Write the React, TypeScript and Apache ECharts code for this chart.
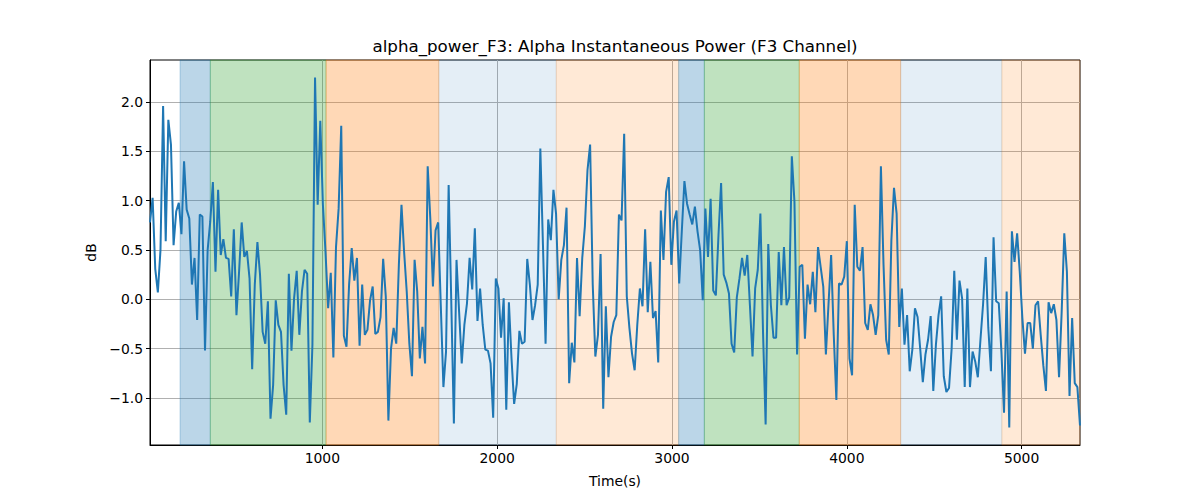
import React, { useEffect, useRef } from "react";
import * as echarts from "echarts";

const T0 = 14;
const T_END = 5334;

const alphaPower: number[] = [
  0.78, 1.03, 0.31, 0.07, 0.5, 1.96, 0.59, 1.82, 1.57, 0.55, 0.89, 0.98, 0.66, 1.4, 0.91, 0.82, 0.15, 0.42, -0.21, 0.86,
  0.84, -0.52, 0.5, 0.79, 1.19, 0.28, 1.11, 0.45, 0.61, 0.42, 0.41, 0.03, 0.71, -0.16, 0.28, 0.78, 0.43, 0.49, 0.21, -0.71,
  0.15, 0.58, 0.25, -0.33, -0.45, -0.02, -1.21, -0.87, -0.01, -0.26, -0.33, -0.87,
  -1.17, 0.26, -0.52, 0.01, 0.29, -0.36, 0.08, 0.3, 0.26, -1.25, -0.46, 2.25, 0.96, 1.81, 0.96, 0.48, -0.09, 0.27, -0.59,
  0.53, 0.92, 1.76, -0.37, -0.48, 0.15, 0.52, 0.19, 0.42, -0.47, 0.15, -0.36, -0.31, -0.01, 0.13, -0.35, -0.33, -0.18,
  0.41, 0.03, -1.23, -0.5, -0.29, -0.45, 0.35, 0.96, 0.48, 0.08, -0.45, -0.78, 0.4,
  0.08, -0.6, -0.28, -0.65, 1.35, 0.82, 0.13, 0.7, 0.78, -0.06, -0.89, -0.53, 1.16, -0.02, -1.26, 0.4, -0.13, -0.65, -0.26,
  -0.04, 0.42, 0.1, 0.72, -0.22, 0.11, -0.26, -0.51, -0.52, -0.65, -1.2, 0.21, 0.11, -0.39, 0.01, -1.12, -0.03, -0.6, -1.06,
  -0.86, -0.32, -0.45, -0.43, 0.41, 0.15, -0.21, -0.06, 0.15, 1.53, 0.55, -0.45, 0.81,
  0.6, 1.11, 0.87, 0.0, 0.4, 0.55, 0.93, -0.85, -0.44, -0.64, 0.42, -0.17, 0.42, 0.74, 1.31, 1.57, 0.15, -0.58, -0.36, 0.46,
  -1.11, -0.07, -0.79, -0.38, -0.23, -0.16, 0.86, 0.8, 1.68, 0.03, -0.29, -0.55, -0.72, -0.26, 0.11, -0.07, 0.71, -0.13,
  0.38, -0.19, -0.12, -0.64, 0.9, 0.4, 1.09, 1.24, 0.35, 0.79, 0.9, 0.16,
  0.69, 1.2, 0.97, 0.86, 0.76, 0.94, 0.69, 0.5, -0.01, 0.92, 0.43, 1.02, 0.09, 0.04, 0.65, 1.18, 0.25, 0.17, 0.06, -0.45,
  -0.54, 0.02, 0.21, 0.42, 0.24, 0.45, -0.06, -0.58, 0.11, 0.3, 0.87, -0.33, -1.27, 0.56, -0.06, -0.39, -0.39, 0.48, -0.06,
  0.53, -0.06, 0.02, 1.45, 0.99, -0.56, 0.33, 0.35, -0.4, 0.15, -0.05, 0.28,
  -0.13, 0.53, 0.33, 0.13, -0.56, -0.05, 0.45, -0.36, -1.02, 0.16, 0.15, 0.23, 0.59, -0.6, -0.77, 0.96, 0.33, 0.29, 0.53,
  -0.24, -0.31, -0.05, -0.16, -0.36, -0.16, 1.35, 0.35, -0.41, -0.56, 0.6, 1.13, 0.87, -0.28, 0.11, -0.46, -0.16, -0.73,
  -0.51, -0.09, -0.18, -0.5, -0.84, -0.56, -0.41, -0.17, -0.93, -0.46, -0.16, 0.03, -0.78, -0.94,
  -0.9, -0.5, 0.29, -0.41, 0.19, 0.01, -0.89, 0.11, -0.89, -0.53, -0.63, -0.79, -0.41, -0.05, 0.43, -0.29, -0.73, 0.63,
  -0.02, -0.04, -0.53, -1.15, 0.08, -1.3, 0.69, 0.38, 0.67, 0.28, -0.19, -0.55, -0.24, -0.24, -0.5, -0.06, -0.02, -0.36,
  -0.67, -0.93, -0.03, -0.14, -0.05, -0.21, -0.79, -0.13, 0.67, 0.28, -0.98, -0.19, -0.85, -0.89, -1.28,
];

const bandStarts = [186, 359, 1021, 1666, 2338, 3038, 3185, 3728, 4308, 4887];
const bandEnds = [359, 1021, 1666, 2338, 3038, 3185, 3728, 4308, 4887, 5334];
const bandColors = [
  "rgba(31,119,180,0.3)",
  "rgba(44,160,44,0.3)",
  "rgba(255,127,14,0.3)",
  "rgba(31,119,180,0.12)",
  "rgba(255,127,14,0.17)",
  "rgba(31,119,180,0.3)",
  "rgba(44,160,44,0.3)",
  "rgba(255,127,14,0.3)",
  "rgba(31,119,180,0.12)",
  "rgba(255,127,14,0.17)",
];

const xTicks = [1000, 2000, 3000, 4000, 5000];
const yTicks = [-1.0, -0.5, 0.0, 0.5, 1.0, 1.5, 2.0];
const Y_MIN = -1.4775;
const Y_MAX = 2.4275;

const FONT = "DejaVu Sans";

export default function App() {
  const ref = useRef<HTMLDivElement>(null);
  useEffect(() => {
    if (!ref.current) return;
    const chart = echarts.init(ref.current, undefined, { renderer: "svg" });
    const n = alphaPower.length;
    const dt = (T_END - T0) / (n - 1);
    const seriesData = alphaPower.map((v, i) => [T0 + i * dt, v]);
    const areas = bandStarts.map((s, i) => [
      {
        xAxis: s,
        itemStyle: { color: bandColors[i], borderColor: bandColors[i], borderWidth: 1 },
      },
      { xAxis: bandEnds[i] },
    ]);
    chart.setOption({
      animation: false,
      backgroundColor: "#ffffff",
      title: {
        text: "alpha_power_F3: Alpha Instantaneous Power (F3 Channel)",
        left: 615,
        top: 37,
        textAlign: "center",
        padding: 0,
        textStyle: { fontFamily: FONT, fontSize: 16.7, fontWeight: "normal", color: "#000" },
      },
      grid: {
        left: 150,
        right: 120,
        top: 60,
        bottom: 55,
        show: true,
        borderColor: "#000",
        borderWidth: 1,
        backgroundColor: "transparent",
      },
      xAxis: {
        type: "value",
        min: T0,
        max: T_END,
        name: "Time(s)",
        nameLocation: "middle",
        nameGap: 29,
        nameTextStyle: { fontFamily: FONT, fontSize: 13.9, color: "#000" },
        axisLine: { show: true, onZero: false, lineStyle: { color: "#000", width: 1 } },
        axisTick: { show: true, customValues: xTicks, length: 4, lineStyle: { color: "#000" } },
        axisLabel: {
          customValues: xTicks,
          margin: 6,
          fontFamily: FONT,
          fontSize: 13.9,
          color: "#000",
          formatter: (v: number) => String(Math.round(v)),
        },
        splitLine: { show: true, lineStyle: { color: "#b0b0b0", width: 1 } },
      },
      yAxis: {
        type: "value",
        min: Y_MIN,
        max: Y_MAX,
        splitNumber: 8,
        name: "dB",
        nameLocation: "middle",
        nameGap: 50,
        nameRotate: 90,
        nameTextStyle: { fontFamily: FONT, fontSize: 13.9, color: "#000" },
        axisLine: { show: true, onZero: false, lineStyle: { color: "#000", width: 1 } },
        axisTick: { show: true, customValues: yTicks, length: 4, lineStyle: { color: "#000" } },
        axisLabel: {
          customValues: yTicks,
          margin: 7,
          fontFamily: FONT,
          fontSize: 13.9,
          color: "#000",
          formatter: (v: number) => v.toFixed(1).replace("-", "\u2212"),
        },
        splitLine: { show: true, lineStyle: { color: "#b0b0b0", width: 1 } },
      },
      series: [
        {
          type: "line",
          data: seriesData,
          showSymbol: false,
          symbol: "none",
          lineStyle: { color: "#1f77b4", width: 2 },
          markArea: { silent: true, data: areas },
          z: 3,
        },
      ],
    });
    return () => chart.dispose();
  }, []);
  return (
    <div
      ref={ref}
      style={{ position: "fixed", left: 0, top: 0, width: 1200, height: 500, background: "#fff" }}
    />
  );
}
